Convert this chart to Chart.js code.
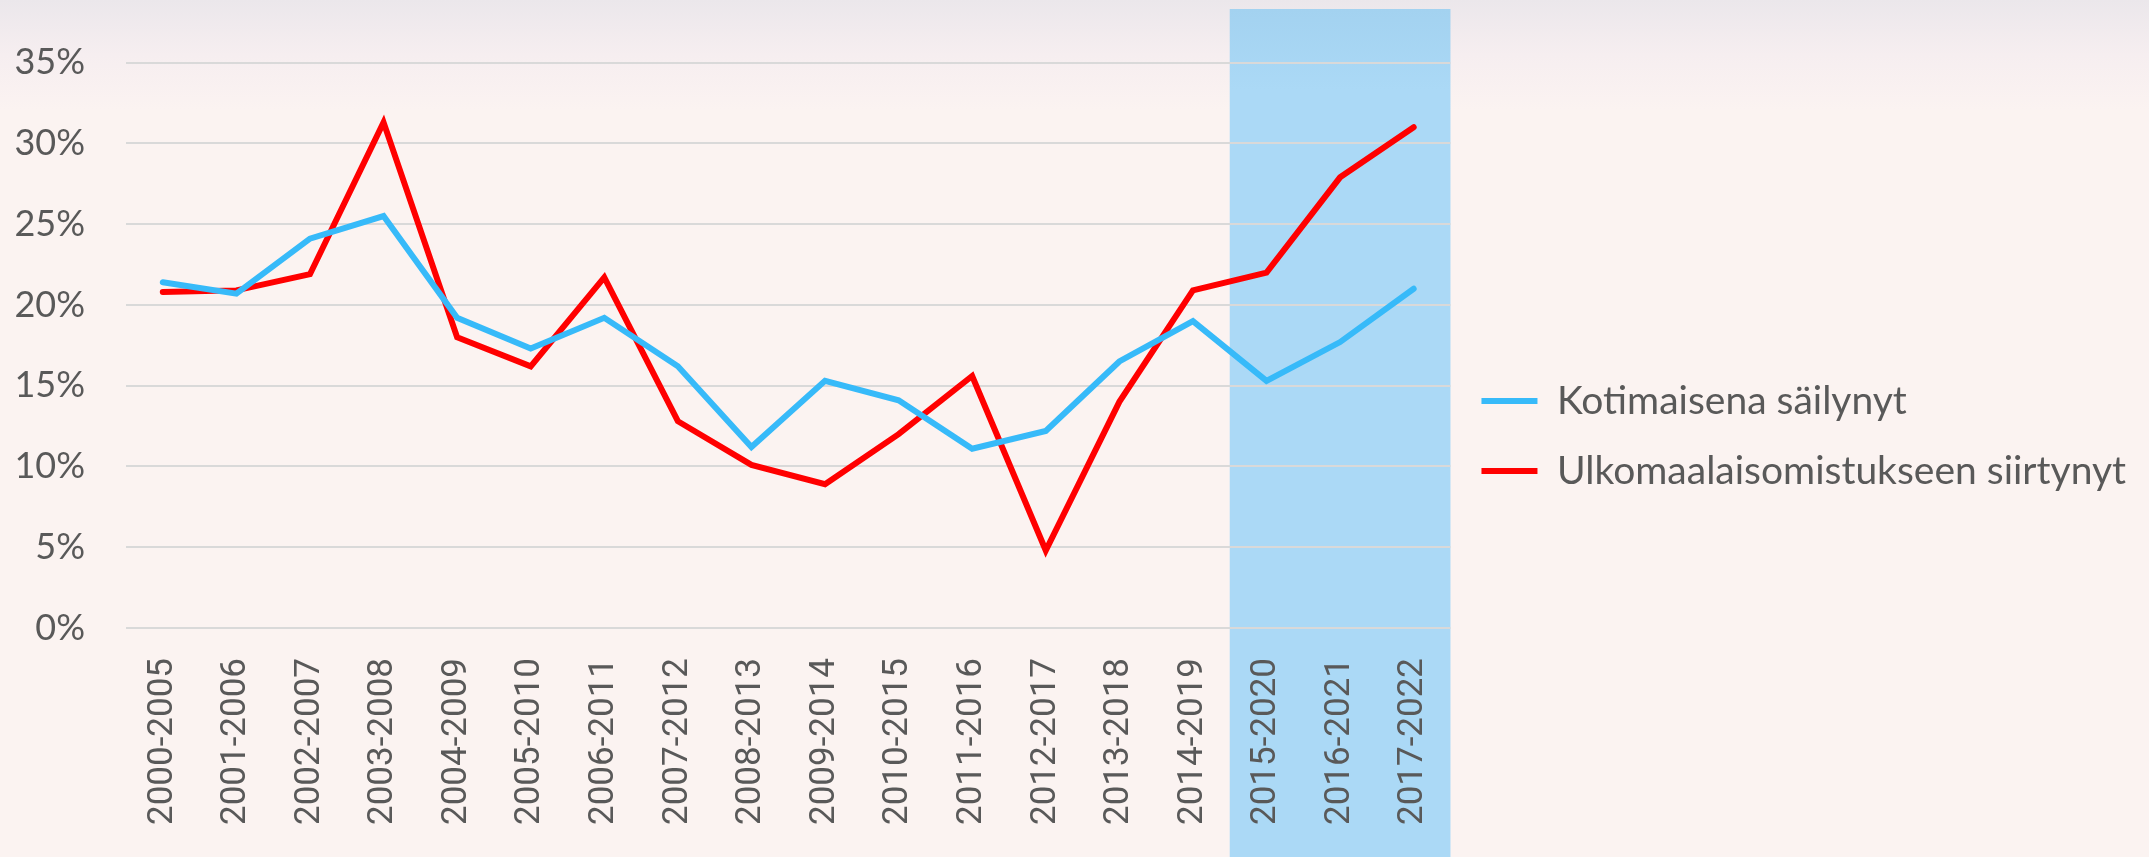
<!DOCTYPE html>
<html>
<head>
<meta charset="utf-8">
<script src="https://cdn.jsdelivr.net/npm/chart.js@4"></script>
<style>
  html, body { margin: 0; padding: 0; }
  body {
    width: 2149px; height: 857px; overflow: hidden;
    background: linear-gradient(to bottom, #ebe7eb 0px, #f6eef0 55px, #fbf3f1 110px, #fbf3f1 100%);
  }
  #wrap { position: relative; width: 2149px; height: 857px; }
</style>
</head>
<body>
<div id="wrap"><canvas id="chart"></canvas></div>
<script>
// periods on the x axis
const periods = [
  "2000-2005", "2001-2006", "2002-2007", "2003-2008", "2004-2009", "2005-2010",
  "2006-2011", "2007-2012", "2008-2013", "2009-2014", "2010-2015", "2011-2016",
  "2012-2017", "2013-2018", "2014-2019", "2015-2020", "2016-2021", "2017-2022"
];

// values in percent
const kotimainen = [21.4, 20.7, 24.1, 25.5, 19.2, 17.3, 19.2, 16.2, 11.2, 15.3, 14.1, 11.1, 12.2, 16.5, 19.0, 15.3, 17.7, 21.0];
const ulkomainen = [20.8, 20.9, 21.9, 31.3, 18.0, 16.2, 21.7, 12.8, 10.1, 8.9, 12.0, 15.6, 4.8, 14.0, 20.9, 22.0, 27.9, 31.0];

const yTicks = [0, 5, 10, 15, 20, 25, 30, 35];

// first highlighted period (light blue band)
const highlightFrom = 15;

const grey = "#595959";

// band behind the last periods, drawn before the grid
const bandPlugin = {
  id: "band",
  beforeDraw(chart) {
    const ctx = chart.ctx;
    const x = chart.scales.x;
    const left = (x.getPixelForValue(highlightFrom - 1) + x.getPixelForValue(highlightFrom)) / 2;
    const right = chart.chartArea.right;
    const g = ctx.createLinearGradient(0, 9, 0, 90);
    g.addColorStop(0, "#a3d2f0");
    g.addColorStop(1, "#abd9f6");
    ctx.save();
    ctx.fillStyle = g;
    ctx.fillRect(left, 9, right - left, chart.height - 9);
    ctx.restore();
  }
};

new Chart(document.getElementById("chart"), {
  type: "line",
  data: {
    labels: periods,
    datasets: [
      {
        label: "Kotimaisena säilynyt",
        data: kotimainen,
        borderColor: "#37baf9",
        backgroundColor: "#37baf9",
        borderWidth: 6,
        borderCapStyle: "round",
        borderJoinStyle: "miter",
        pointRadius: 0,
        pointStyle: "line",
        tension: 0
      },
      {
        label: "Ulkomaalaisomistukseen siirtynyt",
        data: ulkomainen,
        borderColor: "#ff0000",
        backgroundColor: "#ff0000",
        borderWidth: 6,
        borderCapStyle: "round",
        borderJoinStyle: "miter",
        pointRadius: 0,
        pointStyle: "line",
        tension: 0
      }
    ]
  },
  options: {
    responsive: true,
    maintainAspectRatio: false,
    animation: false,
    layout: { padding: { top: 48, left: 0, bottom: 33, right: 13 } },
    plugins: {
      tooltip: { enabled: false },
      legend: {
        position: "right",
        maxWidth: 760,
        labels: {
          usePointStyle: true,
          pointStyleWidth: 56,
          boxHeight: 39,
          padding: 31,
          color: grey,
          font: { family: "Lato", size: 39 }
        }
      }
    },
    scales: {
      x: {
        offset: true,
        grid: { display: false, drawTicks: false, offset: true },
        border: { display: false },
        ticks: {
          color: grey,
          padding: 30,
          minRotation: 90,
          maxRotation: 90,
          autoSkip: false,
          font: { family: "Roboto", size: 35 }
        },
        afterFit(scale) { scale.height = 196; }
      },
      y: {
        min: 0,
        max: 35,
        afterBuildTicks(scale) { scale.ticks = yTicks.map(v => ({ value: v })); },
        grid: { color: "#d9d9d9", lineWidth: 2, drawTicks: false },
        border: { display: false },
        ticks: {
          color: grey,
          padding: 41,
          font: { family: "Lato", size: 36 },
          callback: v => v + "%"
        },
        afterFit(scale) { scale.width = 126; }
      }
    }
  },
  plugins: [bandPlugin]
});
</script>
</body>
</html>
